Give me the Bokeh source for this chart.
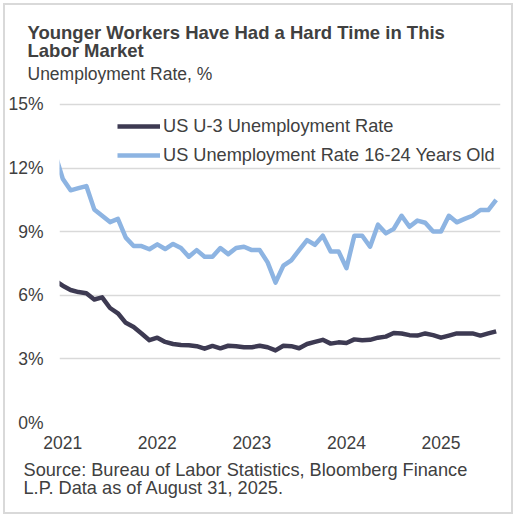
import pandas as pd
from bokeh.plotting import figure
from bokeh.models import FixedTicker, PrintfTickFormatter, Legend, LegendItem, Title
from bokeh.embed import file_html
from bokeh.resources import INLINE

# ---- data ----
months = pd.period_range("2020-12", "2025-08", freq="M")

u3_rate = [6.7,
           6.45, 6.25, 6.15, 6.1, 5.8, 5.9, 5.4, 5.15, 4.7, 4.5, 4.2, 3.88,
           4.0, 3.8, 3.7, 3.65, 3.64, 3.6, 3.48, 3.61, 3.5, 3.62, 3.6, 3.55,
           3.55, 3.62, 3.55, 3.4, 3.62, 3.6, 3.5, 3.7, 3.8, 3.9, 3.72, 3.78,
           3.75, 3.92, 3.88, 3.9, 4.0, 4.05, 4.22, 4.2, 4.12, 4.1, 4.2, 4.12,
           4.0, 4.1, 4.2, 4.2, 4.2, 4.1, 4.2, 4.3]

youth_rate = [12.7,
              11.5, 10.95, 11.05, 11.15, 10.05, 9.75, 9.45, 9.6, 8.72, 8.32, 8.32, 8.17,
              8.4, 8.18, 8.42, 8.23, 7.82, 8.13, 7.82, 7.82, 8.23, 7.94, 8.23, 8.29,
              8.13, 8.13, 7.55, 6.6, 7.4, 7.65, 8.13, 8.6, 8.38, 8.81, 8.07, 8.07,
              7.28, 8.81, 8.81, 8.29, 9.33, 8.92, 9.13, 9.75, 9.23, 9.52, 9.42, 9.01,
              9.01, 9.75, 9.44, 9.6, 9.75, 10.02, 10.02, 10.5]

series_names = ["US U-3 Unemployment Rate", "US Unemployment Rate 16-24 Years Old"]
year_ticks = [2021, 2022, 2023, 2024, 2025]
y_ticks = [0, 3, 6, 9, 12, 15]

title_lines = ["Younger Workers Have Had a Hard Time in This", "Labor Market"]
subtitle = "Unemployment Rate, %"
source_lines = ["Source: Bureau of Labor Statistics, Bloomberg Finance",
                "L.P. Data as of August 31, 2025."]

# month offset from Jan 2021
x = [(m.year - 2021) * 12 + (m.month - 1) for m in months]

TEXT = "#404040"
FONT = "Liberation Sans"
DARK = "#3D3A52"
LIGHT = "#8DB4E2"

p = figure(width=510, height=511, output_backend="svg", toolbar_location=None,
           x_range=(-0.41, 55.55), y_range=(0, 15.94),
           min_border_left=54, min_border_right=15, min_border_top=79, min_border_bottom=94,
           background_fill_color="white", border_fill_color="white")
p.title.visible = False
p.styles = {"border": "2px solid #D9D9D9", "margin": "3px 0 0 3px"}

r1 = p.line(x, u3_rate, line_color=DARK, line_width=4.5, line_join="round")
r2 = p.line(x, youth_rate, line_color=LIGHT, line_width=4.5, line_join="round")

# axes
p.outline_line_color = None
p.xgrid.visible = False
p.ygrid.ticker = FixedTicker(ticks=y_ticks)
p.ygrid.grid_line_color = "#D9D9D9"
p.ygrid.grid_line_width = 1.3

p.yaxis.ticker = FixedTicker(ticks=y_ticks)
p.yaxis.formatter = PrintfTickFormatter(format="%d%%")
p.xaxis.ticker = FixedTicker(ticks=[(yr - 2021) * 12 for yr in year_ticks])
p.xaxis.major_label_overrides = {(yr - 2021) * 12: str(yr) for yr in year_ticks}

for ax in (p.xaxis[0], p.yaxis[0]):
    ax.axis_line_color = None
    ax.major_tick_line_color = None
    ax.minor_tick_line_color = None
    ax.major_tick_out = 0
    ax.major_tick_in = 0
    ax.major_label_text_font = FONT
    ax.major_label_text_font_size = "17.5px"
    ax.major_label_text_color = TEXT
p.yaxis.major_label_standoff = 16
p.xaxis.major_label_standoff = 13

legend = Legend(items=[LegendItem(label=series_names[0], renderers=[r1]),
                       LegendItem(label=series_names[1], renderers=[r2])],
                location=(58, 253), glyph_width=43, glyph_height=28, label_height=28,
                spacing=1, padding=0, margin=0, label_standoff=3,
                border_line_color=None, background_fill_alpha=0,
                label_text_font=FONT, label_text_font_size="18.2px", label_text_color=TEXT)
p.add_layout(legend)

def add_title(txt, side, size, bold, standoff, offset, valign="bottom"):
    p.add_layout(Title(text=txt, align="left", vertical_align=valign, offset=offset,
                       standoff=standoff, text_font=FONT, text_font_size=size,
                       text_font_style="bold" if bold else "normal",
                       text_color=TEXT), side)

# header: panels stack outward from the plot frame
add_title(subtitle, "above", "17.5px", False, 2, -32)
add_title(title_lines[1], "above", "18.5px", True, -1, -32)
add_title(title_lines[0], "above", "18.5px", True, -9, -32)
# footer: below the x axis
add_title(source_lines[0], "below", "18.2px", False, 12, -36)
add_title(source_lines[1], "below", "18.2px", False, -19, -36)

open("out.html", "w").write(file_html(p, INLINE))
